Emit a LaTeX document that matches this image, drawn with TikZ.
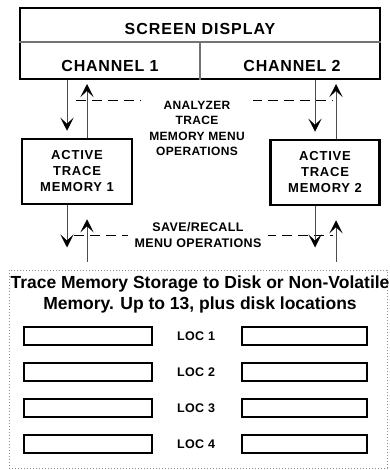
\documentclass[tikz,border=0pt]{standalone}
\usepackage{fontspec}
\setmainfont{Liberation Sans}
\usetikzlibrary{arrows.meta,calc}
\definecolor{ArrowClr}{rgb}{0.3,0.3,0.3}
\definecolor{DivClr}{rgb}{0.45,0.45,0.45}
\definecolor{StoreClr}{rgb}{0.55,0.55,0.55}

\begin{document}
\begin{tikzpicture}[x=1pt,y=-1pt,
  flow/.style={line width=0.9pt,color=ArrowClr,-{Stealth[length=13pt,width=13pt,inset=6pt,color=black]}},
  menuline/.style={line width=0.9pt,color=black,dash pattern=on 10pt off 6pt},
  heavybox/.style={draw,line width=2pt,inner sep=0pt},
  slot/.style={draw,line width=2pt,minimum width=128pt,minimum height=18pt,inner sep=0pt},
  headfont/.style={font=\fontsize{16}{19}\selectfont\bfseries\addfontfeatures{LetterSpace=5}},
  memfont/.style={font=\fontsize{13}{16}\selectfont\bfseries\addfontfeatures{LetterSpace=6}},
  menufont/.style={font=\fontsize{12}{15.5}\selectfont\bfseries\addfontfeatures{LetterSpace=3}},
  locfont/.style={font=\fontsize{12.5}{15}\selectfont\bfseries\addfontfeatures{LetterSpace=3}}]
\useasboundingbox (0,0) rectangle (389,470);

\node[heavybox,minimum width=360pt,minimum height=71pt] (scr) at (200,43.5) {};
\coordinate (scrmid) at (200,42);
\draw[DivClr,line width=1.2pt] (scr.west |- scrmid) -- (scr.east |- scrmid);
\draw[DivClr,line width=1.2pt] (scrmid) -- (scrmid |- scr.south);
\node[font=\fontsize{16}{19}\selectfont\bfseries\addfontfeatures{LetterSpace=6}] (scrttl) at (200,29) {SCREEN DISPLAY};
\node[headfont] (ch1) at (110,65.5) {CHANNEL 1};
\node[headfont] (ch2) at (292,65.5) {CHANNEL 2};

\node[heavybox,line width=2.5pt,minimum width=110pt,minimum height=65pt,align=center,memfont] (mem1) at (77,171.5) {ACTIVE\\TRACE\\MEMORY 1};
\node[heavybox,line width=2.5pt,minimum width=109pt,minimum height=65pt,align=center,memfont] (mem2) at (325,172.5) {ACTIVE\\TRACE\\MEMORY 2};

\node[draw=StoreClr,line width=1pt,dash pattern=on 1pt off 2pt,minimum width=378pt,minimum height=198pt,inner sep=0pt] (store) at (198,369) {};

\coordinate (dn1) at ($(mem1.north)+(-10,0)$);
\coordinate (up1) at ($(mem1.north)+(10,0)$);
\coordinate (dn2) at ($(mem2.north)+(-10,0)$);
\coordinate (up2) at ($(mem2.north)+(11,0)$);
\coordinate (dn1b) at ($(mem1.south)+(-10,0)$);
\coordinate (up1b) at ($(mem1.south)+(10,0)$);
\coordinate (dn2b) at ($(mem2.south)+(-10,0)$);
\coordinate (up2b) at ($(mem2.south)+(11,0)$);

\coordinate (opsL) at (76,100);
\coordinate (opsR) at (333,100);
\coordinate (savL) at (74,235);
\coordinate (savR) at (333,235);
\draw[menuline] (opsL) -- (opsR);
\draw[menuline] (savL) -- (savR);

\draw[flow,shorten >=7pt] (scr.south -| dn1) -- (dn1);
\draw[flow,shorten >=4pt] (up1) -- (up1 |- scr.south);
\draw[flow,shorten >=7pt] (scr.south -| dn2) -- (dn2);
\draw[flow,shorten >=4pt] (up2) -- (up2 |- scr.south);

\draw[flow,shorten >=22pt] (dn1b) -- (dn1b |- store.north);
\draw[flow,shorten <=8pt,shorten >=14pt] (up1b |- store.north) -- (up1b);
\draw[flow,shorten >=22pt] (dn2b) -- (dn2b |- store.north);
\draw[flow,shorten <=8pt,shorten >=14pt] (up2b |- store.north) -- (up2b);

\node[fill=white,inner xsep=8pt,inner ysep=1pt,align=center,menufont] (ops) at (197,128.5) {ANALYZER\\TRACE\\MEMORY MENU\\OPERATIONS};
\node[fill=white,inner xsep=7pt,inner ysep=1pt,align=center,font=\fontsize{12.5}{16}\selectfont\bfseries\addfontfeatures{LetterSpace=3}] (sav) at (198,235.5) {SAVE/RECALL\\MENU OPERATIONS};

\node[align=center,font=\fontsize{17.5}{21}\selectfont\bfseries] (storettl) at (200,294.5) {Trace Memory Storage to Disk or Non-Volatile\\Memory. Up to 13, plus disk locations};

\node[slot] (locL1) at (88,336) {};
\node[slot] (locL2) at (88,372) {};
\node[slot] (locL3) at (88,408) {};
\node[slot] (locL4) at (88,444) {};
\node[slot,minimum width=125pt] (locR1) at (304.5,336) {};
\node[slot,minimum width=125pt] (locR2) at (304.5,372) {};
\node[slot,minimum width=125pt] (locR3) at (304.5,408) {};
\node[slot,minimum width=125pt] (locR4) at (304.5,444) {};
\node[locfont] (loc1) at (196,336) {LOC 1};
\node[locfont] (loc2) at (196,372) {LOC 2};
\node[locfont] (loc3) at (196,408) {LOC 3};
\node[locfont] (loc4) at (196,444) {LOC 4};

\end{tikzpicture}
\end{document}
